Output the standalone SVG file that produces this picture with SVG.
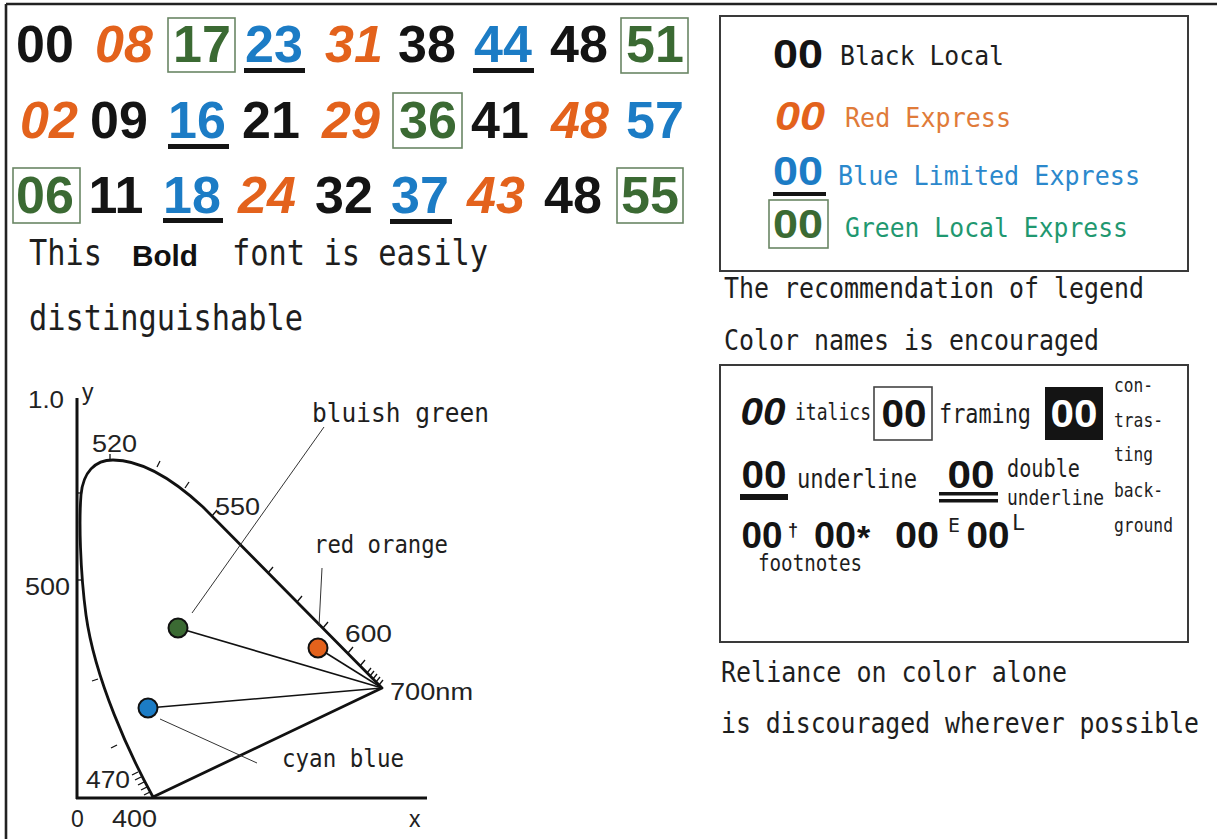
<svg xmlns="http://www.w3.org/2000/svg" width="1217" height="839" viewBox="0 0 1217 839">
<style>
.n{font-family:"Liberation Sans",Arial,sans-serif;font-weight:bold;font-size:52px;text-anchor:middle}
.it{font-style:italic}
.k{fill:#141414}.o{fill:#e3621c}.b{fill:#1c7cc5}.g{fill:#3b6a33}
.gbox{fill:none;stroke:#6a8664;stroke-width:1.6}
.ul{fill:#141414}
.m{font-family:"DejaVu Sans Mono","Liberation Mono",monospace;fill:#1e1e1e}
.a{font-family:"Liberation Sans",Arial,sans-serif;fill:#222;font-size:23px}
.frame{fill:none;stroke:#3a3a3a;stroke-width:2}
.cv{fill:none;stroke:#111;stroke-width:2.8;stroke-linejoin:round}
.tk{stroke:#111;stroke-width:1.3}
.ln{stroke:#111;stroke-width:1.6}
.ld{stroke:#333;stroke-width:1}
.dot{stroke:#111;stroke-width:2}
.lg{font-family:"Liberation Sans",Arial,sans-serif;font-weight:bold;text-anchor:middle}
</style>
<rect width="1217" height="839" fill="#fff"/>
<g id="border">
<line x1="6" y1="4" x2="1217" y2="4" stroke="#222" stroke-width="2.6"/>
<line x1="6" y1="4" x2="6" y2="839" stroke="#222" stroke-width="2.6"/>
</g>
<g id="numbers">
<text class="n k" x="45" y="62">00</text>
<text class="n o it" x="124" y="62">08</text>
<rect class="gbox" x="168" y="18" width="67" height="54"/>
<text class="n g" x="202" y="62">17</text>
<text class="n b" x="274" y="62">23</text>
<rect class="ul" x="244" y="68" width="61" height="5"/>
<text class="n o it" x="354" y="62">31</text>
<text class="n k" x="427" y="62">38</text>
<text class="n b" x="503" y="62">44</text>
<rect class="ul" x="473" y="68" width="61" height="5"/>
<text class="n k" x="579" y="62">48</text>
<rect class="gbox" x="621" y="18" width="67" height="55"/>
<text class="n g" x="655" y="62">51</text>

<text class="n o it" x="49" y="138">02</text>
<text class="n k" x="119" y="138">09</text>
<text class="n b" x="197" y="138">16</text>
<rect class="ul" x="168" y="144" width="61" height="5"/>
<text class="n k" x="271" y="138">21</text>
<text class="n o it" x="351" y="138">29</text>
<rect class="gbox" x="393" y="93" width="69" height="55"/>
<text class="n g" x="428" y="138">36</text>
<text class="n k" x="500" y="138">41</text>
<text class="n o it" x="580" y="138">48</text>
<text class="n b" x="655" y="138">57</text>

<rect class="gbox" x="13" y="168" width="67" height="55"/>
<text class="n g" x="45" y="213">06</text>
<text class="n k" x="116" y="213">11</text>
<text class="n b" x="192" y="213">18</text>
<rect class="ul" x="163" y="218" width="60" height="5"/>
<text class="n o it" x="267" y="213">24</text>
<text class="n k" x="344" y="213">32</text>
<text class="n b" x="420" y="213">37</text>
<rect class="ul" x="390" y="219" width="62" height="5"/>
<text class="n o it" x="496" y="213">43</text>
<text class="n k" x="573" y="213">48</text>
<rect class="gbox" x="617" y="168" width="66" height="55"/>
<text class="n g" x="650" y="213">55</text>
</g>
<g id="caption-left">
<text class="m" x="29" y="265" font-size="36" textLength="73" lengthAdjust="spacingAndGlyphs">This</text>
<text x="132" y="266" font-family="Liberation Sans,Arial,sans-serif" font-weight="bold" font-size="30" fill="#111" textLength="66" lengthAdjust="spacingAndGlyphs">Bold</text>
<text class="m" x="232" y="265" font-size="36" textLength="256" lengthAdjust="spacingAndGlyphs">font is easily</text>
<text class="m" x="29" y="330" font-size="36" textLength="274" lengthAdjust="spacingAndGlyphs">distinguishable</text>
</g>
<g id="legend">
<rect class="frame" x="720" y="16" width="468" height="255"/>
<text class="lg" x="798" y="68" font-size="40" fill="#141414" textLength="50" lengthAdjust="spacingAndGlyphs">00</text>
<text class="m" x="840" y="65" font-size="27" textLength="164" lengthAdjust="spacingAndGlyphs">Black Local</text>
<text class="lg" x="800" y="130" font-size="40" font-style="italic" fill="#e3621c" textLength="50" lengthAdjust="spacingAndGlyphs">00</text>
<text class="m" x="845" y="127" font-size="27" style="fill:#e07b39" textLength="166" lengthAdjust="spacingAndGlyphs">Red Express</text>
<text class="lg" x="798" y="185" font-size="40" fill="#1c7cc5" textLength="50" lengthAdjust="spacingAndGlyphs">00</text>
<rect x="773" y="192" width="53" height="4" fill="#141414"/>
<text class="m" x="838" y="185" font-size="27" style="fill:#2b88cc" textLength="302" lengthAdjust="spacingAndGlyphs">Blue Limited Express</text>
<rect class="gbox" x="769" y="200" width="59" height="48"/>
<text class="lg" x="798" y="238" font-size="40" fill="#3b6a33" textLength="50" lengthAdjust="spacingAndGlyphs">00</text>
<text class="m" x="845" y="237" font-size="27" style="fill:#1f9870" textLength="283" lengthAdjust="spacingAndGlyphs">Green Local Express</text>
</g>
<g id="legend-notes">
<text class="m" x="724" y="298" font-size="29" textLength="420" lengthAdjust="spacingAndGlyphs">The recommendation of legend</text>
<text class="m" x="724" y="350" font-size="29" textLength="375" lengthAdjust="spacingAndGlyphs">Color names is encouraged</text>
</g>
<g id="styles-box">
<rect class="frame" x="720" y="365" width="468" height="277"/>
<text class="lg" x="763" y="425" font-size="39" font-style="italic" fill="#141414" textLength="45" lengthAdjust="spacingAndGlyphs">00</text>
<text class="m" x="795" y="420" font-size="23" textLength="76" lengthAdjust="spacingAndGlyphs">italics</text>
<rect x="874" y="387" width="58" height="53" fill="none" stroke="#444" stroke-width="1.6"/>
<text class="lg" x="904" y="427" font-size="39" fill="#141414" textLength="45" lengthAdjust="spacingAndGlyphs">00</text>
<text class="m" x="939" y="423" font-size="27" textLength="92" lengthAdjust="spacingAndGlyphs">framing</text>
<rect x="1045" y="387" width="58" height="53" fill="#141414"/>
<text class="lg" x="1074" y="427" font-size="39" fill="#fff" textLength="47" lengthAdjust="spacingAndGlyphs">00</text>
<text class="m" x="1114" y="392" font-size="19" textLength="39" lengthAdjust="spacingAndGlyphs">con-</text>
<text class="m" x="1114" y="427" font-size="19" textLength="49" lengthAdjust="spacingAndGlyphs">tras-</text>
<text class="m" x="1114" y="461" font-size="19" textLength="39" lengthAdjust="spacingAndGlyphs">ting</text>
<text class="m" x="1114" y="497" font-size="19" textLength="49" lengthAdjust="spacingAndGlyphs">back-</text>
<text class="m" x="1114" y="532" font-size="19" textLength="59" lengthAdjust="spacingAndGlyphs">ground</text>
<text class="lg" x="764" y="488" font-size="39" fill="#141414" textLength="45" lengthAdjust="spacingAndGlyphs">00</text>
<rect x="740" y="494" width="48" height="6" fill="#141414"/>
<text class="m" x="797" y="488" font-size="26" textLength="120" lengthAdjust="spacingAndGlyphs">underline</text>
<text class="lg" x="971" y="488" font-size="39" fill="#141414" textLength="47" lengthAdjust="spacingAndGlyphs">00</text>
<rect x="939" y="492" width="59" height="3.5" fill="#141414"/>
<rect x="939" y="499" width="59" height="3.5" fill="#141414"/>
<text class="m" x="1007" y="477" font-size="24" textLength="73" lengthAdjust="spacingAndGlyphs">double</text>
<text class="m" x="1007" y="505" font-size="22" textLength="97" lengthAdjust="spacingAndGlyphs">underline</text>
<text class="lg" x="762" y="548" font-size="36" fill="#141414" textLength="41" lengthAdjust="spacingAndGlyphs">00</text>
<text x="788" y="536" font-family="Liberation Sans,Arial,sans-serif" font-weight="bold" font-size="18" fill="#141414">†</text>
<text class="lg" x="835" y="548" font-size="36" fill="#141414" textLength="42" lengthAdjust="spacingAndGlyphs">00</text>
<text x="857" y="549" font-family="Liberation Sans,Arial,sans-serif" font-weight="bold" font-size="34" fill="#141414">*</text>
<text class="lg" x="917" y="548" font-size="36" fill="#141414" textLength="44" lengthAdjust="spacingAndGlyphs">00</text>
<text class="m" x="948" y="532" font-size="20" textLength="12" lengthAdjust="spacingAndGlyphs">E</text>
<text class="lg" x="988" y="548" font-size="36" fill="#141414" textLength="43" lengthAdjust="spacingAndGlyphs">00</text>
<text class="m" x="1012" y="530" font-size="22" textLength="13" lengthAdjust="spacingAndGlyphs">L</text>
<text class="m" x="758" y="571" font-size="23" textLength="104" lengthAdjust="spacingAndGlyphs">footnotes</text>
</g>
<g id="bottom-notes">
<text class="m" x="721" y="682" font-size="29" textLength="346" lengthAdjust="spacingAndGlyphs">Reliance on color alone</text>
<text class="m" x="721" y="733" font-size="29" textLength="478" lengthAdjust="spacingAndGlyphs">is discouraged wherever possible</text>
</g>
<g id="chart">
<g id="axes">
<line x1="77" y1="398" x2="77" y2="799" stroke="#111" stroke-width="3"/>
<line x1="76" y1="798" x2="427" y2="798" stroke="#111" stroke-width="3"/>
<text class="a" x="28" y="408" font-size="24" textLength="36" lengthAdjust="spacingAndGlyphs">1.0</text>
<text class="a" x="82" y="400" font-size="26">y</text>
<text class="a" x="25" y="595" font-size="24" textLength="45" lengthAdjust="spacingAndGlyphs">500</text>
<text class="a" x="71" y="827" font-size="24">0</text>
<text class="a" x="112" y="827" font-size="24" textLength="45" lengthAdjust="spacingAndGlyphs">400</text>
<text class="a" x="409" y="827" font-size="26">x</text>
</g>
<g id="locus">
<path class="cv" d="M153,797 C130,755 95,680 86,615 C80,570 79,520 81,495 C83,472 95,460 113,460 C135,460 165,472 203,507 L382,688 L153,797 Z"/>
<g class="tk">
<line x1="110" y1="460" x2="110" y2="454"/>
<line x1="157" y1="467" x2="160" y2="461"/>
<line x1="185" y1="488" x2="189" y2="482"/>
<line x1="212" y1="516" x2="217" y2="510"/>
<line x1="268" y1="573" x2="273" y2="567"/>
<line x1="297" y1="602" x2="302" y2="596"/>
<line x1="323" y1="628" x2="328" y2="622"/>
<line x1="348" y1="653" x2="353" y2="647"/>
<line x1="360" y1="666" x2="365" y2="660"/>
<line x1="367" y1="673" x2="371" y2="668"/>
<line x1="370" y1="676" x2="374" y2="671"/>
<line x1="373" y1="679" x2="377" y2="674"/>
<line x1="376" y1="682" x2="380" y2="677"/>
<line x1="379" y1="685" x2="383" y2="680"/>
<line x1="81" y1="493" x2="77" y2="493"/>
<line x1="82" y1="580" x2="77" y2="580"/>
<line x1="98" y1="679" x2="92" y2="681"/>
<line x1="117" y1="745" x2="111" y2="748"/>
<line x1="138" y1="772" x2="132" y2="775"/>
<line x1="141" y1="777" x2="135" y2="780"/>
<line x1="144" y1="782" x2="138" y2="785"/>
<line x1="147" y1="787" x2="141" y2="790"/>
<line x1="150" y1="792" x2="144" y2="795"/>
</g>
<text class="a" x="92" y="452" font-size="24" textLength="45" lengthAdjust="spacingAndGlyphs">520</text>
<text class="a" x="215" y="515" font-size="24" textLength="45" lengthAdjust="spacingAndGlyphs">550</text>
<text class="a" x="345" y="642" font-size="24" textLength="47" lengthAdjust="spacingAndGlyphs">600</text>
<text class="a" x="390" y="700" font-size="25" textLength="83" lengthAdjust="spacingAndGlyphs">700nm</text>
<text class="a" x="86" y="788" font-size="24" textLength="44" lengthAdjust="spacingAndGlyphs">470</text>
</g>
<g id="connectors">
<line class="ln" x1="178" y1="628" x2="382" y2="688"/>
<line class="ln" x1="318" y1="648" x2="382" y2="688"/>
<line class="ln" x1="148" y1="708" x2="382" y2="688"/>
<line class="ld" x1="192" y1="613" x2="324" y2="427"/>
<line class="ld" x1="322" y1="568" x2="319" y2="626"/>
<line class="ld" x1="160" y1="719" x2="257" y2="763"/>
</g>
<g id="point-green"><circle class="dot" cx="178" cy="628" r="9.5" fill="#3b6a33"/></g>
<g id="point-orange"><circle class="dot" cx="318" cy="648" r="9.5" fill="#e3621c"/></g>
<g id="point-blue"><circle class="dot" cx="148" cy="708" r="9.5" fill="#1c7cc5"/></g>
<g id="labels">
<text class="m" x="312" y="422" font-size="26" textLength="177" lengthAdjust="spacingAndGlyphs">bluish green</text>
<text class="m" x="314" y="553" font-size="25" textLength="134" lengthAdjust="spacingAndGlyphs">red orange</text>
<text class="m" x="282" y="767" font-size="25" textLength="122" lengthAdjust="spacingAndGlyphs">cyan blue</text>
</g>
</g>
</svg>
